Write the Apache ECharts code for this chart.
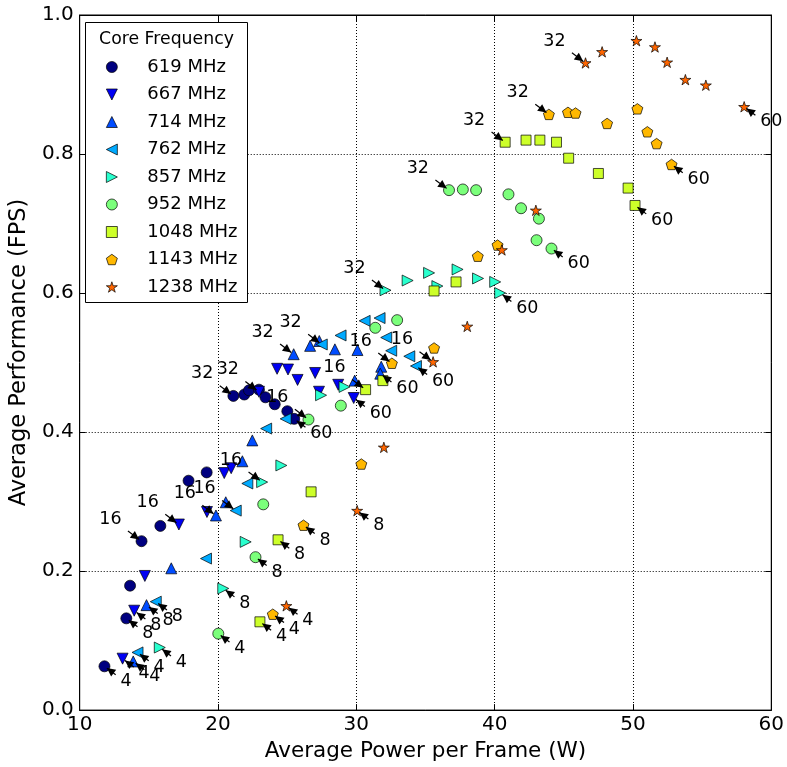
<!DOCTYPE html>
<html><head><meta charset="utf-8">
<script src="https://cdn.jsdelivr.net/npm/echarts@6/dist/echarts.min.js"></script>
<style>html,body{margin:0;padding:0;background:#fff}#c{width:787px;height:767px}</style>
</head><body><div id="c"></div>
<script>
// FPS targets for the 15 points of every frequency series
const fpsTargets = [4, 8, 12, 16, 20, 24, 28, 32, 36, 40, 44, 48, 52, 56, 60];
const labeledTargets = [4, 8, 16, 32, 60];
const freqNames = ['619 MHz','667 MHz','714 MHz','762 MHz','857 MHz','952 MHz','1048 MHz','1143 MHz','1238 MHz'];

const power619 = [11.79,13.37,13.64,14.47,15.83,17.87,19.18,21.11,21.90,22.24,22.96,23.43,24.10,25.01,25.51];
const perf619  = [0.063,0.132,0.179,0.243,0.265,0.330,0.342,0.452,0.454,0.460,0.461,0.450,0.440,0.430,0.419];
const power667 = [13.10,13.94,14.71,17.17,19.20,20.45,20.95,22.96,24.27,25.06,25.75,27.02,27.30,28.69,29.81];
const perf667  = [0.074,0.143,0.193,0.267,0.285,0.341,0.348,0.458,0.491,0.490,0.475,0.485,0.458,0.468,0.449];
const power714 = [13.87,14.83,16.62,19.85,20.56,21.76,22.48,25.47,26.66,27.32,28.45,30.08,29.88,31.80,31.73];
const perf714  = [0.070,0.151,0.204,0.280,0.299,0.358,0.388,0.512,0.524,0.531,0.519,0.518,0.474,0.494,0.484];
const power762 = [14.18,15.50,19.13,21.28,22.12,23.48,24.89,27.50,28.86,30.60,31.68,32.16,32.52,33.83,34.31];
const perf762  = [0.083,0.156,0.218,0.287,0.326,0.405,0.419,0.526,0.539,0.560,0.564,0.536,0.517,0.509,0.495];
const power857 = [15.79,20.38,22.00,23.19,24.58,27.45,29.15,32.11,33.71,35.26,35.86,37.32,38.80,40.04,40.40];
const perf857  = [0.090,0.175,0.242,0.328,0.352,0.453,0.465,0.604,0.618,0.629,0.610,0.634,0.621,0.616,0.600];
const power952 = [20.02,22.71,23.27,26.54,28.88,31.37,32.95,36.70,37.70,38.66,41.00,41.91,43.20,43.03,44.11];
const perf952  = [0.110,0.220,0.296,0.418,0.438,0.550,0.561,0.748,0.749,0.748,0.742,0.722,0.707,0.676,0.664];
const power1048 = [23.03,24.34,26.73,30.67,31.92,35.62,37.21,40.76,42.27,43.27,44.47,45.35,47.50,49.65,50.15];
const perf1048  = [0.127,0.245,0.314,0.461,0.474,0.603,0.616,0.817,0.820,0.820,0.817,0.794,0.772,0.751,0.726];
const power1143 = [23.96,26.18,30.36,32.57,35.62,38.78,40.21,43.92,45.30,45.85,48.13,50.32,51.04,51.71,52.79];
const perf1143  = [0.138,0.266,0.354,0.499,0.521,0.653,0.669,0.857,0.860,0.859,0.844,0.865,0.832,0.815,0.785];
const power1238 = [24.94,30.06,31.99,35.55,38.02,40.52,42.98,46.57,47.77,50.25,51.59,52.47,53.79,55.27,58.04];
const perf1238  = [0.150,0.287,0.378,0.501,0.552,0.662,0.719,0.931,0.947,0.963,0.954,0.932,0.907,0.899,0.868];

const powers = [power619,power667,power714,power762,power857,power952,power1048,power1143,power1238];
const perfs  = [perf619,perf667,perf714,perf762,perf857,perf952,perf1048,perf1143,perf1238];

// styles
const colors = ['#000080','#0000f3','#004cff','#00aaff','#29ffce','#7bff7b','#cdff29','#ffb800','#ff6600'];
const TRI_UP = 'path://M0,-100L100,100L-100,100Z';
const TRI_DOWN = 'path://M-100,-100L100,-100L0,100Z';
const TRI_LEFT = 'path://M-100,0L100,-100L100,100Z';
const TRI_RIGHT = 'path://M100,0L-100,-100L-100,100Z';
const PENT = 'path://M0,-100L-95.1,-30.9L-58.8,80.9L58.8,80.9L95.1,-30.9Z';
const STAR = 'path://M0,-100L22.45,-30.9L95.1,-30.9L36.33,11.8L58.78,80.9L0,38.2L-58.78,80.9L-36.33,11.8L-95.1,-30.9L-22.45,-30.9Z';
const symbols = ['circle',TRI_DOWN,TRI_UP,TRI_LEFT,TRI_RIGHT,'circle','rect',PENT,STAR];
const sizes = [11,11,11,11,11,11,10,11,11];
const FONT = '"DejaVu Sans", "Liberation Sans", sans-serif';

const series = freqNames.map((name, i) => ({
  type: 'scatter', name,
  data: powers[i].map((x, k) => [x, perfs[i][k]]),
  symbol: symbols[i], symbolSize: sizes[i], symbolKeepAspect: true,
  itemStyle: { color: colors[i], borderColor: '#000', borderWidth: 0.7, opacity: 1 },
  emphasis: { disabled: true },
  z: 2 + i * 0.01
}));

const annData = [];
freqNames.forEach((n, i) => {
  labeledTargets.forEach(t => {
    const k = fpsTargets.indexOf(t);
    annData.push([powers[i][k], perfs[i][k], t]);
  });
});

series.push({
  type: 'custom', name: 'annotations', coordinateSystem: 'cartesian2d', data: annData,
  silent: true, z: 5, clip: false,
  renderItem(params, api) {
    const p = api.coord([api.value(0), api.value(1)]);
    const t = api.value(2);
    const up = (t === 16 || t === 32);
    const s = up ? -1 : 1;
    const ux = 0.8 * s, uy = 0.6 * s;
    const tipD = 3, tailD = up ? 17 : 14, headL = 8.5, headW = 4.2;
    const tip = [p[0] + ux * tipD, p[1] + uy * tipD];
    const base = [p[0] + ux * (tipD + headL), p[1] + uy * (tipD + headL)];
    const tail = [p[0] + ux * tailD, p[1] + uy * tailD];
    const nx = -uy, ny = ux;
    return { type: 'group', children: [
      { type: 'line', shape: { x1: tip[0], y1: tip[1], x2: tail[0], y2: tail[1] }, style: { stroke: '#000', lineWidth: 1.2 } },
      { type: 'polygon', shape: { points: [tip, [base[0] + nx * headW, base[1] + ny * headW], [base[0] - nx * headW, base[1] - ny * headW]] }, style: { fill: '#000' } },
      { type: 'text', style: { text: String(t), x: up ? p[0] - 20 : p[0] + 16, y: up ? p[1] - 22 : p[1] + 15,
        fill: '#000', font: '17.5px ' + FONT, align: up ? 'right' : 'left', verticalAlign: 'middle' } }
    ]};
  }
});

const axisCommon = {
  type: 'value',
  axisLine: { show: true, onZero: false, lineStyle: { color: '#000', width: 1 } },
  axisTick: { show: true, inside: true, length: 6, lineStyle: { color: '#000', width: 1 } },
};

const chart = echarts.init(document.getElementById('c'), null, { renderer: 'canvas' });
chart.setOption({
  animation: false,
  backgroundColor: '#fff',
  textStyle: { fontFamily: FONT },
  grid: { left: 76, right: 14, top: 15, bottom: 55, show: true, borderColor: '#000', borderWidth: 1, containLabel: false },
  xAxis: [
    Object.assign({}, axisCommon, {
      min: 10, max: 60, interval: 10, position: 'bottom',
      name: 'Average Power per Frame (W)', nameLocation: 'middle', nameGap: 29,
      nameTextStyle: { fontSize: 21.5, color: '#000', fontFamily: FONT },
      axisLabel: { fontSize: 20, color: '#000', margin: 5, fontFamily: FONT },
      splitLine: { show: true, lineStyle: { color: '#000', width: 1, type: [1, 2] } }
    }),
    Object.assign({}, axisCommon, {
      min: 10, max: 60, interval: 10, position: 'top',
      axisLabel: { show: false }, splitLine: { show: false }
    })
  ],
  yAxis: [
    Object.assign({}, axisCommon, {
      min: 0, max: 1, interval: 0.2, position: 'left',
      name: 'Average Performance (FPS)', nameLocation: 'middle', nameGap: 42,
      nameTextStyle: { fontSize: 22.5, color: '#000', fontFamily: FONT, padding: [0, 0, 0, 20] },
      axisLabel: { fontSize: 20, color: '#000', margin: 6, fontFamily: FONT, formatter: v => v.toFixed(1) },
      splitLine: { show: true, lineStyle: { color: '#000', width: 1, type: [1, 2] } }
    }),
    Object.assign({}, axisCommon, {
      min: 0, max: 1, interval: 0.2, position: 'right',
      axisLabel: { show: false }, splitLine: { show: false }
    })
  ],
  legend: {
    data: freqNames, orient: 'vertical', left: 106, top: 57,
    itemWidth: 11, itemHeight: 11, itemGap: 7.5,
    itemStyle: { borderWidth: 0.7, borderColor: '#000' },
    textStyle: { fontSize: 18, color: '#000', fontFamily: FONT, lineHeight: 20, padding: [0, 0, 0, 25] },
    selectedMode: false, z: 20, padding: 0
  },
  graphic: [
    { type: 'rect', z: 10, shape: { x: 85.5, y: 22.5, width: 162, height: 280 }, style: { fill: '#fff', stroke: '#000', lineWidth: 1 } },
    { type: 'text', z: 21, style: { text: 'Core Frequency', x: 166.5, y: 40, align: 'center', verticalAlign: 'middle', font: '17.3px ' + FONT, fill: '#000' } }
  ],
  series
});
</script></body></html>
